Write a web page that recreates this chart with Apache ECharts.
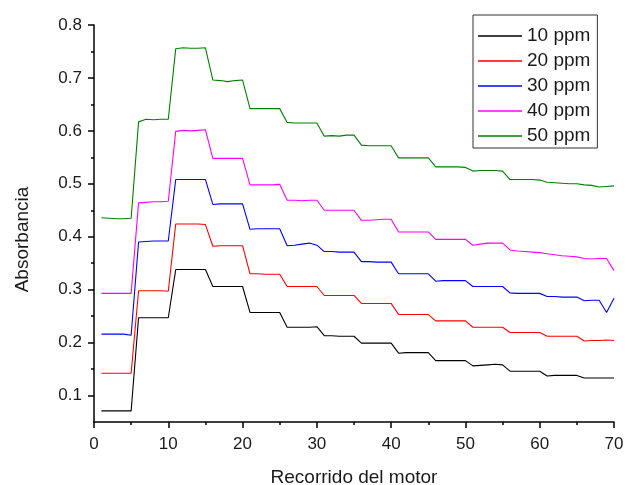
<!DOCTYPE html>
<html>
<head>
<meta charset="utf-8">
<script src="https://cdn.jsdelivr.net/npm/echarts@6/dist/echarts.min.js"></script>
<style>
html,body{margin:0;padding:0;background:#fff;}
#chart{width:626px;height:485px;}
</style>
</head>
<body>
<div id="chart"></div>
<script>
var xValues = [1,2,3,4,5,6,7,8,9,10,11,12,13,14,15,16,17,18,19,20,21,22,23,24,25,26,27,28,29,30,31,32,33,34,35,36,37,38,39,40,41,42,43,44,45,46,47,48,49,50,51,52,53,54,55,56,57,58,59,60,61,62,63,64,65,66,67,68,69,70];

var seriesNames = ['10 ppm','20 ppm','30 ppm','40 ppm','50 ppm'];

var ppm10 = [0.071,0.071,0.071,0.071,0.071, 0.247,0.247,0.247,0.247,0.247, 0.338,0.338,0.338,0.338,0.338, 0.306,0.306,0.306,0.306,0.306, 0.257,0.257,0.257,0.257,0.257, 0.229,0.229,0.229,0.229,0.230, 0.213,0.213,0.212,0.212,0.212, 0.199,0.199,0.199,0.199,0.199, 0.180,0.181,0.181,0.181,0.181, 0.166,0.166,0.166,0.166,0.166, 0.156,0.157,0.158,0.159,0.158, 0.146,0.146,0.146,0.146,0.146, 0.137,0.138,0.138,0.138,0.138, 0.133,0.133,0.133,0.133,0.133];
var ppm20 = [0.142,0.142,0.142,0.142,0.142, 0.298,0.298,0.298,0.298,0.297, 0.424,0.424,0.424,0.424,0.423, 0.382,0.383,0.383,0.383,0.383, 0.330,0.330,0.329,0.329,0.329, 0.306,0.306,0.306,0.306,0.306, 0.289,0.289,0.289,0.289,0.289, 0.274,0.274,0.274,0.274,0.274, 0.253,0.253,0.253,0.253,0.253, 0.241,0.241,0.241,0.241,0.241, 0.229,0.229,0.229,0.229,0.229, 0.219,0.219,0.219,0.219,0.219, 0.212,0.212,0.212,0.212,0.212, 0.203,0.204,0.204,0.205,0.204];
var ppm30 = [0.216,0.216,0.216,0.216,0.214, 0.390,0.391,0.392,0.392,0.392, 0.508,0.508,0.508,0.508,0.508, 0.461,0.462,0.462,0.462,0.462, 0.414,0.415,0.415,0.415,0.415, 0.383,0.384,0.386,0.388,0.384, 0.372,0.372,0.371,0.371,0.371, 0.353,0.353,0.352,0.352,0.352, 0.330,0.330,0.330,0.330,0.330, 0.316,0.317,0.317,0.317,0.317, 0.306,0.306,0.306,0.306,0.306, 0.294,0.293,0.293,0.293,0.293, 0.287,0.287,0.286,0.286,0.286, 0.279,0.280,0.280,0.257,0.284];
var ppm40 = [0.293,0.293,0.293,0.293,0.293, 0.464,0.465,0.466,0.466,0.467, 0.599,0.601,0.600,0.601,0.602, 0.548,0.548,0.548,0.548,0.548, 0.498,0.498,0.498,0.498,0.499, 0.469,0.469,0.468,0.469,0.469, 0.450,0.450,0.450,0.450,0.450, 0.431,0.431,0.432,0.433,0.433, 0.409,0.409,0.409,0.409,0.409, 0.395,0.395,0.395,0.395,0.395, 0.384,0.386,0.388,0.388,0.388, 0.375,0.373,0.372,0.371,0.370, 0.368,0.366,0.364,0.363,0.362, 0.359,0.358,0.359,0.359,0.336];
var ppm50 = [0.436,0.435,0.434,0.434,0.435, 0.617,0.622,0.621,0.622,0.622, 0.755,0.757,0.756,0.756,0.757, 0.696,0.695,0.693,0.695,0.696, 0.642,0.642,0.642,0.642,0.642, 0.616,0.615,0.615,0.615,0.615, 0.590,0.591,0.590,0.592,0.592, 0.573,0.572,0.572,0.572,0.572, 0.549,0.549,0.549,0.549,0.549, 0.532,0.532,0.532,0.532,0.531, 0.524,0.525,0.525,0.525,0.524, 0.508,0.508,0.508,0.508,0.507, 0.503,0.502,0.501,0.500,0.500, 0.498,0.497,0.494,0.495,0.496];

var yMajorTicks = [0.1,0.2,0.3,0.4,0.5,0.6,0.7,0.8];
var yMinorTicks = [0.15,0.25,0.35,0.45,0.55,0.65,0.75];
var xTickLabels = [0,10,20,30,40,50,60,70];

var colors = ['#000000','#ff0000','#0000ff','#ff00ff','#008000'];
var allValues = [ppm10, ppm20, ppm30, ppm40, ppm50];
var FONT = "'Liberation Sans', Arial, sans-serif";
var TEXT = '#1a1a1a';

function pairs(vals){
  return xValues.map(function(x,i){ return [x, vals[i]]; });
}

var chart = echarts.init(document.getElementById('chart'), null, {renderer:'canvas'});
chart.setOption({
  animation: false,
  backgroundColor: '#ffffff',
  color: colors,
  grid: {left: 94, right: 12, top: 25, bottom: 63, containLabel: false, outerBoundsMode: 'none'},
  legend: {
    orient: 'vertical',
    left: 473,
    top: 15,
    data: seriesNames.map(function(n){ return {name: n, icon: 'rect'}; }),
    itemWidth: 44,
    itemHeight: 1.5,
    itemGap: 5,
    padding: [11, 7, 2, 5],
    borderColor: '#333333',
    borderWidth: 1,
    backgroundColor: '#ffffff',
    textStyle: {fontFamily: FONT, fontSize: 19, color: TEXT, lineHeight: 20},
    selectedMode: false
  },
  xAxis: {
    type: 'value',
    min: 0, max: 70, interval: 10,
    name: 'Recorrido del motor',
    nameLocation: 'middle',
    nameGap: 46,
    nameTextStyle: {fontFamily: FONT, fontSize: 19, color: TEXT},
    axisLine: {show: true, onZero: false, lineStyle: {color: '#000', width: 1.5}},
    axisTick: {show: true, inside: false, length: 6, lineStyle: {color: '#000', width: 1.5}},
    minorTick: {show: true, splitNumber: 2, length: 3, lineStyle: {color: '#000', width: 1.5}},
    axisLabel: {fontFamily: FONT, fontSize: 17, color: TEXT, margin: 14,
      customValues: xTickLabels},
    splitLine: {show: false},
    minorSplitLine: {show: false}
  },
  yAxis: [{
    type: 'value',
    min: 0.05, max: 0.8,
    name: 'Absorbancia',
    nameLocation: 'middle',
    nameGap: 62,
    nameRotate: 90,
    nameTextStyle: {fontFamily: FONT, fontSize: 19, color: TEXT, padding: [0, 32, 0, 0]},
    axisLine: {show: true, onZero: false, lineStyle: {color: '#000', width: 1.5}},
    axisTick: {show: true, inside: false, length: 6, customValues: yMajorTicks, lineStyle: {color: '#000', width: 1.5}},
    axisLabel: {fontFamily: FONT, fontSize: 17, color: TEXT, margin: 12, customValues: yMajorTicks,
      formatter: function(v){ return v.toFixed(1); }},
    splitLine: {show: false}
  }, {
    type: 'value',
    min: 0.05, max: 0.8,
    position: 'left',
    axisLine: {show: false},
    axisTick: {show: true, inside: false, length: 3, customValues: yMinorTicks, lineStyle: {color: '#000', width: 1.5}},
    axisLabel: {show: false},
    splitLine: {show: false}
  }],
  series: seriesNames.map(function(name, i){
    return {
      name: name,
      type: 'line',
      yAxisIndex: 0,
      data: pairs(allValues[i]),
      symbol: 'none',
      showSymbol: false,
      lineStyle: {width: 1.1, color: colors[i]},
      itemStyle: {color: colors[i]}
    };
  })
});
</script>
</body>
</html>
